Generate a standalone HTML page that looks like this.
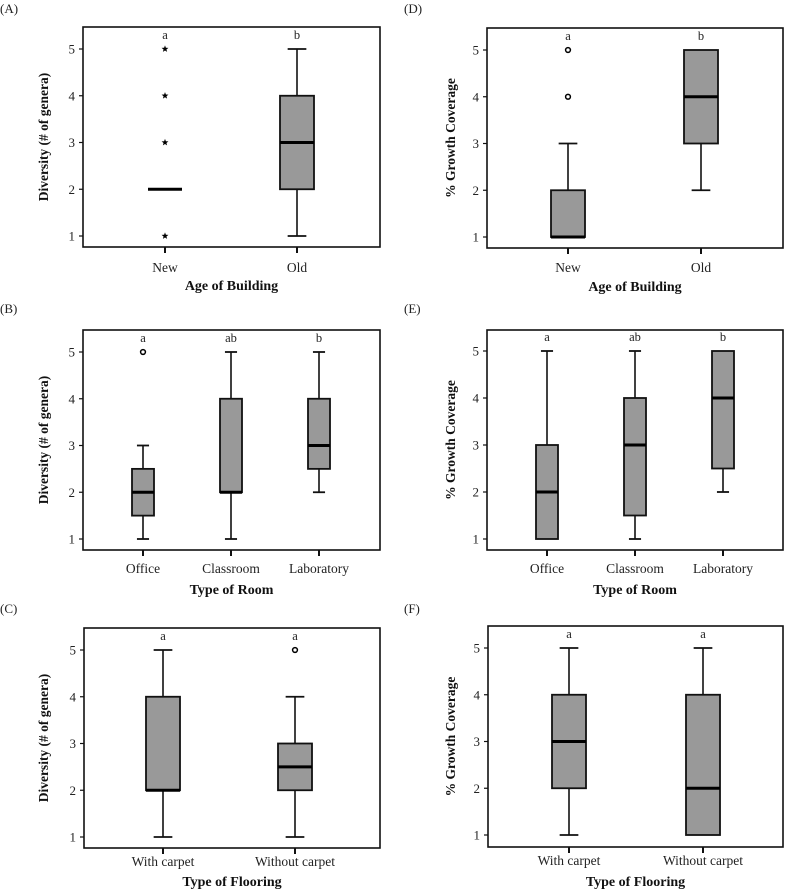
<!DOCTYPE html>
<html><head><meta charset="utf-8"><style>
html,body{margin:0;padding:0;background:#fff;}
svg{display:block;font-family:"Liberation Serif",serif;}
</style></head><body>
<svg id="fig" width="785" height="891" viewBox="0 0 785 891"></svg>
<script>
// Data per panel: [whiskerLow, q1, median, q3, whiskerHigh]
const catsA = ["New","Old"];
const statsA = [[2,2,2,2,2],[1,2,3,4,5]];
const outA = [[1,3,4,5],[]];
const lettersA = ["a","b"];

const catsB = ["Office","Classroom","Laboratory"];
const statsB = [[1,1.5,2,2.5,3],[1,2,2,4,5],[2,2.5,3,4,5]];
const outB = [[5],[],[]];
const lettersB = ["a","ab","b"];

const catsC = ["With carpet","Without carpet"];
const statsC = [[1,2,2,4,5],[1,2,2.5,3,4]];
const outC = [[],[5]];
const lettersC = ["a","a"];

const catsD = ["New","Old"];
const statsD = [[1,1,1,2,3],[2,3,4,5,5]];
const outD = [[4,5],[]];
const lettersD = ["a","b"];

const catsE = ["Office","Classroom","Laboratory"];
const statsE = [[1,1,2,3,5],[1,1.5,3,4,5],[2,2.5,4,5,5]];
const outE = [[],[],[]];
const lettersE = ["a","ab","b"];

const catsF = ["With carpet","Without carpet"];
const statsF = [[1,2,3,4,5],[1,1,2,4,5]];
const outF = [[],[]];
const lettersF = ["a","a"];

const yTicks = [1,2,3,4,5];

const NS="http://www.w3.org/2000/svg";
const svg=document.getElementById('fig');
function mk(tag,attrs,parent,text){const e=document.createElementNS(NS,tag);for(const k in attrs)e.setAttribute(k,attrs[k]);if(text!==undefined)e.textContent=text;(parent||svg).appendChild(e);return e;}

const panels=[
 {id:"a",label:"(A)",lx:0,ly:13,L:83,T:27,R:380,B:247,y5:49,y1:236,xs:[165,297],hw:17,cats:catsA,stats:statsA,out:outA,let:lettersA,marker:"star",yt:"Diversity (# of genera)",xt:"Age of Building",ytx:48,xly:272,xty:290},
 {id:"b",label:"(B)",lx:0,ly:313,L:83,T:330,R:380,B:550,y5:352,y1:539,xs:[143,231,319],hw:11,cats:catsB,stats:statsB,out:outB,let:lettersB,marker:"circle",yt:"Diversity (# of genera)",xt:"Type of Room",ytx:48,xly:573,xty:594},
 {id:"c",label:"(C)",lx:0,ly:613,L:84,T:628,R:380,B:848,y5:650,y1:837,xs:[163,295],hw:17,cats:catsC,stats:statsC,out:outC,let:lettersC,marker:"circle",yt:"Diversity (# of genera)",xt:"Type of Flooring",ytx:48,xly:866,xty:886},
 {id:"d",label:"(D)",lx:404,ly:13,L:487,T:28,R:783,B:248,y5:50,y1:237,xs:[568,701],hw:17,cats:catsD,stats:statsD,out:outD,let:lettersD,marker:"circle",yt:"% Growth Coverage",xt:"Age of Building",ytx:455,xly:272,xty:291},
 {id:"e",label:"(E)",lx:404,ly:313,L:487,T:330,R:783,B:550,y5:351,y1:539,xs:[547,635,723],hw:11,cats:catsE,stats:statsE,out:outE,let:lettersE,marker:"circle",yt:"% Growth Coverage",xt:"Type of Room",ytx:455,xly:573,xty:594},
 {id:"f",label:"(F)",lx:404,ly:613,L:488,T:626,R:783,B:847,y5:648,y1:835,xs:[569,703],hw:17,cats:catsF,stats:statsF,out:outF,let:lettersF,marker:"circle",yt:"% Growth Coverage",xt:"Type of Flooring",ytx:455,xly:865,xty:886}
];

function starPts(cx,cy,r){let p=[];for(let i=0;i<10;i++){const a=-Math.PI/2+i*Math.PI/5;const rr=i%2?r*0.42:r;p.push((cx+rr*Math.cos(a)).toFixed(2)+","+(cy+rr*Math.sin(a)).toFixed(2));}return p.join(" ");}

panels.forEach(p=>{
  const g=mk('g',{});
  
  
  const yS=v=>p.y1+(v-1)*(p.y5-p.y1)/4;
  const pl=mk('text',{x:p.lx,y:p.ly,'font-size':13,fill:'#222'},g,p.label);
  
  
  const fr=mk('rect',{x:p.L,y:p.T,width:p.R-p.L,height:p.B-p.T,fill:'none',stroke:'#111','stroke-width':1.6},g);
  
  
  yTicks.forEach(t=>{
    const y=yS(t);
    mk('line',{x1:p.L-4,x2:p.L,y1:y,y2:y,stroke:'#111','stroke-width':1.2},g);
    const tl=mk('text',{x:p.L-8,y:y+4.5,'font-size':13,'text-anchor':'end',fill:'#222'},g,String(t));
    
    
  });
  const yt=mk('text',{x:0,y:0,'font-size':13.5,'font-weight':'bold','text-anchor':'middle',fill:'#111',transform:`translate(${p.ytx},${(p.T+p.B)/2}) rotate(-90)`},g,p.yt);
  
  
  const xt=mk('text',{x:(p.L+p.R)/2,y:p.xty,'font-size':14,'font-weight':'bold','text-anchor':'middle',fill:'#111'},g,p.xt);
  
  
  p.cats.forEach((c,i)=>{
    const x=p.xs[i], s=p.stats[i];
    mk('line',{x1:x,x2:x,y1:p.B,y2:p.B+6,stroke:'#111','stroke-width':2},g);
    const cl=mk('text',{x:x,y:p.xly,'font-size':13.5,'text-anchor':'middle',fill:'#222'},g,c);
    
    
    const lt=mk('text',{x:x,y:yS(5)-10,'font-size':12.5,'text-anchor':'middle',fill:'#222'},g,p.let[i]);
    
    
    const bg=mk('g',{},g);
    
    
    const cap=p.hw*0.55;
    if(s[4]>s[3]){mk('line',{x1:x,x2:x,y1:yS(s[3]),y2:yS(s[4]),stroke:'#111','stroke-width':1.6},bg);mk('line',{x1:x-cap,x2:x+cap,y1:yS(s[4]),y2:yS(s[4]),stroke:'#111','stroke-width':1.8},bg);}
    if(s[0]<s[1]){mk('line',{x1:x,x2:x,y1:yS(s[1]),y2:yS(s[0]),stroke:'#111','stroke-width':1.6},bg);mk('line',{x1:x-cap,x2:x+cap,y1:yS(s[0]),y2:yS(s[0]),stroke:'#111','stroke-width':1.8},bg);}
    if(s[3]>s[1]) mk('rect',{x:x-p.hw,y:yS(s[3]),width:2*p.hw,height:yS(s[1])-yS(s[3]),fill:'#999',stroke:'#111','stroke-width':1.8},bg);
    mk('line',{x1:x-p.hw,x2:x+p.hw,y1:yS(s[2]),y2:yS(s[2]),stroke:'#000','stroke-width':3},bg);
    p.out[i].forEach(v=>{
      let m;
      if(p.marker==='star') m=mk('polygon',{points:starPts(x,yS(v),3.6),fill:'#000'},bg);
      else m=mk('circle',{cx:x,cy:yS(v),r:2.4,fill:'#fff',stroke:'#000','stroke-width':1.5},bg);
      
      
    });
  });
});
</script>
</body></html>
